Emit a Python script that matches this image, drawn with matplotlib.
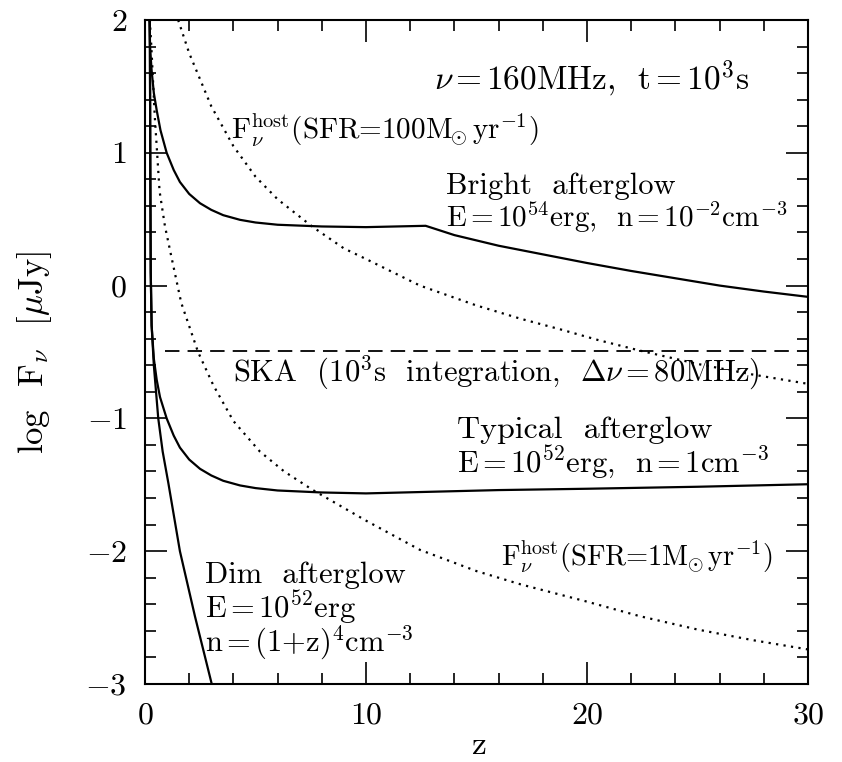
import numpy as np
import matplotlib
matplotlib.use("Agg")
import matplotlib.pyplot as plt
import matplotlib as mpl
from matplotlib.ticker import MultipleLocator

# Configurations
mpl.rcParams['font.family'] = 'cmr10'
mpl.rcParams['mathtext.fontset'] = 'cm'
mpl.rcParams['axes.formatter.use_mathtext'] = True
mpl.rcParams['font.size'] = 22

# Data (z, log F_nu [uJy])
bright_z = [0.2, 0.23, 0.3, 0.4, 0.53, 0.7, 0.98, 1.3, 1.58, 2.0, 2.49, 3.0, 3.54, 4.3, 5.0, 6, 8, 10, 12.7,
            14, 16, 18, 20, 22, 24, 26, 28, 30]
bright_f = [2.0, 1.79, 1.62, 1.45, 1.32, 1.17, 1.0, 0.87, 0.78, 0.69, 0.62, 0.57, 0.53, 0.495, 0.475, 0.458,
            0.445, 0.44, 0.45, 0.38, 0.30, 0.235, 0.17, 0.11, 0.055, 0.0, -0.045, -0.085]

typical_z = [0.22, 0.24, 0.26, 0.3, 0.4, 0.53, 0.68, 0.98, 1.3, 1.58, 2.0, 2.49, 3.0, 3.54, 4.3, 5.0, 6, 8, 10,
             12.4, 16, 20, 25, 30]
typical_f = [2.0, 0.9, 0.1, -0.3, -0.55, -0.71, -0.84, -1.0, -1.13, -1.22, -1.31, -1.38, -1.43, -1.47, -1.505,
             -1.525, -1.543, -1.558, -1.565, -1.555, -1.54, -1.53, -1.515, -1.496]

dim_z = [0.22, 0.24, 0.26, 0.3, 0.4, 0.53, 0.6, 0.8, 1.06, 1.58, 2.26, 3.02]
dim_f = [2.0, 0.9, 0.1, -0.3, -0.6, -0.86, -1.0, -1.25, -1.49, -2.0, -2.49, -3.0]

host100_z = [1.5, 2.0, 2.5, 3.0, 4.0, 5.0, 6.0, 7.6, 9.0, 10.0, 12.44, 15, 17, 18.8, 20.5, 22.4, 25, 27.5, 30]
host100_f = [2.0, 1.75, 1.55, 1.35, 1.05, 0.82, 0.65, 0.44, 0.28, 0.2, 0.0, -0.15, -0.25, -0.33, -0.41,
             -0.49, -0.59, -0.67, -0.74]

host1_z = [0.22, 0.29, 0.44, 0.66, 0.9, 1.19, 1.64, 2.4, 3.09, 4.0, 5.2, 6.3, 7.6, 10, 12.44, 15, 17, 20,
           22.4, 25, 27.5, 30]
host1_f = [2.0, 1.79, 1.28, 0.71, 0.45, 0.22, -0.13, -0.5, -0.75, -1.02, -1.25, -1.4, -1.54, -1.77, -1.99,
           -2.15, -2.25, -2.38, -2.49, -2.59, -2.67, -2.74]

ska_z = [0.9, 30]
ska_f = [-0.49, -0.49]

fig = plt.figure(figsize=(8.42, 7.62), dpi=100)
ax = fig.add_axes([0.1722, 0.1024, 0.7874, 0.8714])

lw = 1.6
ax.plot(bright_z, bright_f, 'k-', lw=lw)
ax.plot(typical_z, typical_f, 'k-', lw=lw)
ax.plot(dim_z, dim_f, 'k-', lw=lw)
ax.plot(host100_z, host100_f, color='k', lw=1.6, ls=(0, (1, 2.4)))
ax.plot(host1_z, host1_f, color='k', lw=1.6, ls=(0, (1, 2.4)))
ax.plot(ska_z, ska_f, color='k', lw=1.3, ls=(0, (8, 4.5)))

ax.set_xlim(0, 30)
ax.set_ylim(-3, 2)
ax.xaxis.set_major_locator(MultipleLocator(10))
ax.xaxis.set_minor_locator(MultipleLocator(2))
ax.yaxis.set_major_locator(MultipleLocator(1))
ax.yaxis.set_minor_locator(MultipleLocator(0.2))
ax.tick_params(which='both', direction='in', top=True, right=True, width=1.2)
ax.tick_params(which='major', length=16, labelsize=23, pad=13)
ax.tick_params(which='minor', length=8)
for sp in ax.spines.values():
    sp.set_linewidth(1.5)

EQ = r'$\,$=$\,$'
MSUN = r'$\mathrm{M}_{\!\!\odot}$'
fs = 22
ax.text(13.1, 1.56, r'$\nu$' + EQ + '160MHz,  t' + EQ + r'10$^3$s', fontsize=24, va='center')
ax.text(3.9, 1.17, r'F$_\nu^{\mathrm{host}}$(SFR=100' + MSUN + r'yr$^{-1}$)', fontsize=21, va='center')
ax.text(13.6, 0.745, 'Bright  afterglow', fontsize=fs, va='center')
ax.text(13.6, 0.51, r'E' + EQ + r'10$^{54}$erg,  n' + EQ + r'10$^{-2}$cm$^{-3}$', fontsize=21, va='center')
ax.text(4.0, -0.66, r'SKA  (10$^3$s  integration,  $\Delta\nu$' + EQ + '80MHz)', fontsize=fs, va='center')
ax.text(14.1, -1.09, 'Typical  afterglow', fontsize=fs + 1, va='center')
ax.text(14.1, -1.33, r'E' + EQ + r'10$^{52}$erg,  n' + EQ + r'1cm$^{-3}$', fontsize=fs, va='center')
ax.text(16.1, -2.04, r'F$_\nu^{\mathrm{host}}$(SFR=1' + MSUN + r'yr$^{-1}$)', fontsize=20.5, va='center')
ax.text(2.7, -2.18, 'Dim  afterglow', fontsize=fs, va='center')
ax.text(2.7, -2.43, r'E' + EQ + r'10$^{52}$erg', fontsize=fs, va='center')
ax.text(2.7, -2.69, r'n' + EQ + r'(1+z)$^4$cm$^{-3}$', fontsize=fs, va='center')

fig.text(478 / 842, 1 - 745 / 762, 'z', fontsize=24, ha='center', va='center')
fig.text(35 / 842, 1 - 352 / 762, r'log  F$_\nu$  [$\mu$Jy]', fontsize=25, ha='center', va='center',
         rotation=90)

fig.savefig('out.png', dpi=100)
